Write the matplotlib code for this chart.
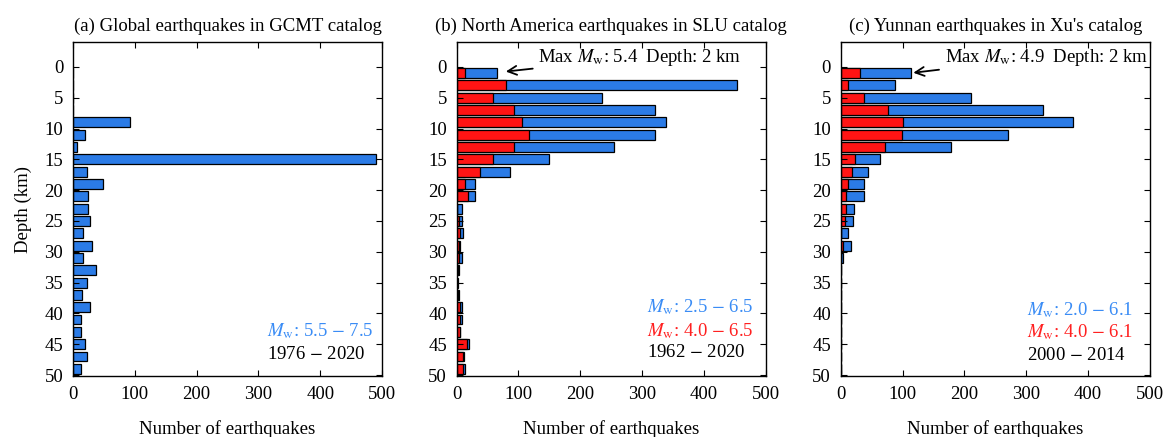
import numpy as np
import matplotlib.pyplot as plt

plt.rcParams['font.family'] = ['Liberation Serif', 'DejaVu Serif']
plt.rcParams['mathtext.fontset'] = 'stix'
plt.rcParams['font.size'] = 13.5

# depth bin centres (km), 2 km bins
depths = [1, 3, 5, 7, 9, 11, 13, 15, 17, 19, 21, 23, 25,
          27, 29, 31, 33, 35, 37, 39, 41, 43, 45, 47, 49]

# (a) GCMT, all events
gcmt_all = [0, 0, 0, 0, 92, 20, 7, 490, 23, 49, 25, 24, 28,
            16, 30, 16, 37, 23, 14, 28, 13, 13, 19, 22, 13]

# (b) SLU, Mw 2.5-6.5 (all) and Mw 4.0-6.5
slu_all = [65, 453, 235, 321, 339, 321, 254, 149, 86, 30, 29, 8, 9,
           10, 5, 8, 3, 2, 4, 8, 9, 6, 20, 12, 14]
slu_m4 = [14, 79, 58, 92, 106, 117, 93, 59, 37, 14, 18, 1, 3,
          6, 3, 4, 2, 1, 2, 5, 6, 6, 16, 11, 11]

# (c) Xu's catalog, Mw 2.0-6.1 (all) and Mw 4.0-6.1
xu_all = [113, 87, 210, 327, 376, 271, 178, 63, 44, 37, 38, 21, 20,
          11, 17, 3, 1, 1, 1, 1, 1, 1, 0.5, 0.5, 0.5]
xu_m4 = [31, 12, 37, 77, 101, 99, 71, 23, 18, 11, 9, 8, 7,
         1, 3, 0.5, 0, 0, 0, 0, 0, 0, 0, 0, 0]

titles = ['(a) Global earthquakes in GCMT catalog',
          '(b) North America earthquakes in SLU catalog',
          "(c) Yunnan earthquakes in Xu's catalog"]

blue = '#2b7be6'
red = '#ff1414'
blue_txt = '#3a8cf5'
red_txt = '#ff2020'

fig = plt.figure(figsize=(11.68, 4.37), dpi=100)
lefts = [0.0625, 0.391, 0.7198]
axes = [fig.add_axes([l, 0.139, 0.2646, 0.7643]) for l in lefts]

bar_h = 1.6
kw = dict(height=bar_h, edgecolor='k', linewidth=0.9)

axes[0].barh(depths, gcmt_all, color=blue, **kw)
axes[1].barh(depths, slu_all, color=blue, **kw)
axes[1].barh(depths, slu_m4, color=red, **kw)
axes[2].barh(depths, xu_all, color=blue, **kw)
axes[2].barh(depths, xu_m4, color=red, **kw)

for ax, title in zip(axes, titles):
    ax.set_xlim(0, 500)
    ax.set_ylim(50.2, -4)
    ax.set_xticks([0, 100, 200, 300, 400, 500])
    ax.set_yticks([0, 5, 10, 15, 20, 25, 30, 35, 40, 45, 50])
    ax.tick_params(direction='in', top=True, right=True, length=4, width=0.8)
    ax.tick_params(axis='x', pad=7)
    ax.tick_params(axis='y', pad=7)
    ax.set_xlabel('Number of earthquakes', labelpad=12)
    ax.set_title(title, fontsize=13.5, pad=8)
    for s in ax.spines.values():
        s.set_linewidth(1.0)

axes[0].set_ylabel('Depth (km)', labelpad=9)

# text labels
axes[0].text(314, 42.9, r'$M_\mathrm{w}$: 5.5 $-$ 7.5', color=blue_txt, va='center')
axes[0].text(314, 46.6, r'1976 $-$ 2020', color='k', va='center')

axes[1].text(308, 39.0, r'$M_\mathrm{w}$: 2.5 $-$ 6.5', color=blue_txt, va='center')
axes[1].text(308, 42.8, r'$M_\mathrm{w}$: 4.0 $-$ 6.5', color=red_txt, va='center')
axes[1].text(308, 46.4, r'1962 $-$ 2020', color='k', va='center')

axes[2].text(301, 39.5, r'$M_\mathrm{w}$: 2.0 $-$ 6.1', color=blue_txt, va='center')
axes[2].text(301, 43.1, r'$M_\mathrm{w}$: 4.0 $-$ 6.1', color=red_txt, va='center')
axes[2].text(301, 46.8, r'2000 $-$ 2014', color='k', va='center')

arrow = dict(arrowstyle='->', lw=1.3, color='k', mutation_scale=16)
axes[1].annotate(r'Max $M_\mathrm{w}$: 5.4  Depth: 2 km', xy=(75, 0.8), xytext=(132, -1.6),
                 va='center', ha='left', arrowprops=arrow)
axes[2].annotate(r'Max $M_\mathrm{w}$: 4.9  Depth: 2 km', xy=(113, 1.0), xytext=(168, -1.6),
                 va='center', ha='left', arrowprops=arrow)

fig.savefig('out.png', dpi=100)
